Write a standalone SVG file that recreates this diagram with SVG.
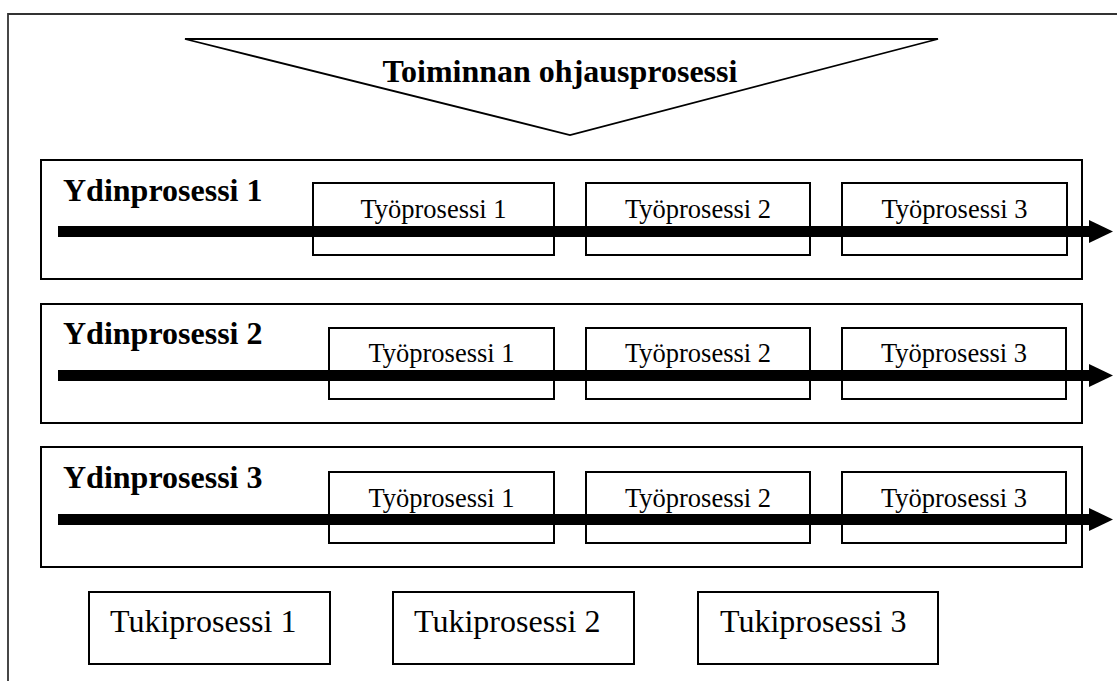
<svg xmlns="http://www.w3.org/2000/svg" width="1117" height="681" viewBox="0 0 1117 681">
  <style>
    .frame { fill: none; stroke: #333; stroke-width: 1.8; }
    .box { fill: #fff; stroke: #000; stroke-width: 2; }
    .tri { fill: #fff; stroke: #000; stroke-width: 1.8; stroke-linejoin: miter; }
    .title { font-family: "Liberation Serif", "Times New Roman", serif; font-weight: bold; font-size: 32px; fill: #000; }
    .work { font-family: "Liberation Serif", "Times New Roman", serif; font-size: 26.5px; fill: #000; text-anchor: middle; }
    .support { font-family: "Liberation Serif", "Times New Roman", serif; font-size: 32px; fill: #000; }
    .flow { stroke: #000; stroke-width: 11; fill: none; marker-end: url(#head); }
  </style>
  <defs>
    <marker id="head" markerUnits="userSpaceOnUse" viewBox="0 0 24 23" markerWidth="24" markerHeight="23" refX="0" refY="11.5" orient="auto">
      <path d="M0,0 L24,11.5 L0,23 Z" fill="#000"/>
    </marker>
  </defs>

  <rect x="0" y="0" width="1117" height="681" fill="#fff"/>

  <!-- outer frame: open on the right and bottom -->
  <path class="frame" d="M8,681 V14 H1117"/>

  <!-- steering process wedge -->
  <g id="ohjausprosessi">
    <polygon class="tri" points="185,39 938,39 570,135"/>
    <text class="title" x="560" y="82" text-anchor="middle">Toiminnan ohjausprosessi</text>
  </g>

  <!-- core process 1 -->
  <g id="ydinprosessi-1">
    <rect class="box" x="41" y="160" width="1041" height="119"/>
    <text class="title" x="63" y="201">Ydinprosessi 1</text>
  </g>
  <g id="tyoprosessi-1-1">
    <rect class="box" x="313" y="183" width="241" height="72"/>
    <text class="work" x="433.5" y="218">Työprosessi 1</text>
  </g>
  <g id="tyoprosessi-1-2">
    <rect class="box" x="586" y="183" width="224" height="72"/>
    <text class="work" x="698" y="218">Työprosessi 2</text>
  </g>
  <g id="tyoprosessi-1-3">
    <rect class="box" x="842" y="183" width="225" height="72"/>
    <text class="work" x="954.5" y="218">Työprosessi 3</text>
  </g>

  <!-- core process 2 -->
  <g id="ydinprosessi-2">
    <rect class="box" x="41" y="304" width="1041" height="119"/>
    <text class="title" x="63" y="344">Ydinprosessi 2</text>
  </g>
  <g id="tyoprosessi-2-1">
    <rect class="box" x="329" y="328" width="225" height="71"/>
    <text class="work" x="441.5" y="362">Työprosessi 1</text>
  </g>
  <g id="tyoprosessi-2-2">
    <rect class="box" x="586" y="328" width="224" height="71"/>
    <text class="work" x="698" y="362">Työprosessi 2</text>
  </g>
  <g id="tyoprosessi-2-3">
    <rect class="box" x="842" y="328" width="224" height="71"/>
    <text class="work" x="954" y="362">Työprosessi 3</text>
  </g>

  <!-- core process 3 -->
  <g id="ydinprosessi-3">
    <rect class="box" x="41" y="447" width="1041" height="120"/>
    <text class="title" x="63" y="488">Ydinprosessi 3</text>
  </g>
  <g id="tyoprosessi-3-1">
    <rect class="box" x="329" y="472" width="225" height="71"/>
    <text class="work" x="441.5" y="507">Työprosessi 1</text>
  </g>
  <g id="tyoprosessi-3-2">
    <rect class="box" x="586" y="472" width="224" height="71"/>
    <text class="work" x="698" y="507">Työprosessi 2</text>
  </g>
  <g id="tyoprosessi-3-3">
    <rect class="box" x="842" y="472" width="224" height="71"/>
    <text class="work" x="954" y="507">Työprosessi 3</text>
  </g>

  <!-- support processes -->
  <g id="tukiprosessi-1">
    <rect class="box" x="89" y="592" width="241" height="72"/>
    <text class="support" x="110" y="632">Tukiprosessi 1</text>
  </g>
  <g id="tukiprosessi-2">
    <rect class="box" x="393" y="592" width="241" height="72"/>
    <text class="support" x="414" y="632">Tukiprosessi 2</text>
  </g>
  <g id="tukiprosessi-3">
    <rect class="box" x="698" y="592" width="240" height="72"/>
    <text class="support" x="720" y="632">Tukiprosessi 3</text>
  </g>

  <!-- flow arrows across each core process -->
  <g id="connectors">
    <line class="flow" x1="58" y1="231.5" x2="1089" y2="231.5"/>
    <line class="flow" x1="58" y1="375.5" x2="1089" y2="375.5"/>
    <line class="flow" x1="58" y1="519.5" x2="1089" y2="519.5"/>
  </g>
</svg>
